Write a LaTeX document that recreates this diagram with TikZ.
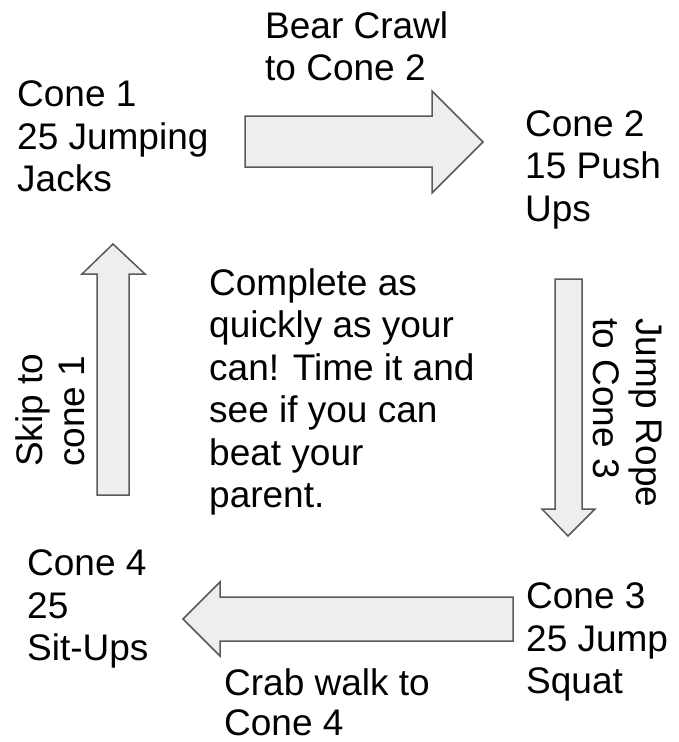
\documentclass[tikz,border=0pt]{standalone}
\usepackage{fontspec}
\setmainfont{Liberation Sans}
\definecolor{arrowfill}{HTML}{EEEEEE}
\definecolor{arrowline}{HTML}{595959}
\tikzset{
  lbl/.style={anchor=north west, inner sep=0pt, align=left,
    font=\fontsize{37}{42.5}\selectfont, text=black},
  blockarrow/.style={fill=arrowfill, draw=arrowline, line width=1.5pt, line join=miter}
}
\begin{document}
\begin{tikzpicture}[x=1pt,y=-1pt]
\useasboundingbox (0,0) rectangle (679,742);
% block arrows
\draw[blockarrow] (245,116) -- (432,116) -- (432,91) -- (483,142) -- (432,193) -- (432,167) -- (245,167) -- cycle;
\draw[blockarrow] (97,495) -- (97,274) -- (82,274) -- (113,244) -- (145,274) -- (129,274) -- (129,495) -- cycle;
\draw[blockarrow] (555,279) -- (582,279) -- (582,509) -- (595,509) -- (568,536) -- (542,509) -- (555,509) -- cycle;
\draw[blockarrow] (513,597) -- (513,641) -- (220,641) -- (220,656) -- (183,619) -- (220,582) -- (220,597) -- cycle;
% labels
\node[lbl] (cone1) at (17,80.5) {Cone 1\\25 Jumping\\Jacks};
\node[lbl] (bear) at (265,11) {Bear Crawl\\to Cone 2};
\node[lbl] (cone2) at (525,110) {Cone 2\\15 Push\\Ups};
\node[lbl] (center) at (209,268) {Complete as\\quickly as your\\can! Time it and\\see if you can\\beat your\\parent.};
\node[lbl, rotate=90] (skip) at (15,467) {Skip to\\cone 1};
\node[lbl, rotate=-90] (jump) at (662,318) {Jump Rope\\to Cone 3};
\node[lbl] (cone3) at (526,582.5) {Cone 3\\25 Jump\\Squat};
\node[lbl] (cone4) at (27,549.5) {Cone 4\\25\\Sit-Ups};
\node[lbl, font=\fontsize{37}{40}\selectfont] (crab) at (224,668.5) {Crab walk to\\Cone 4};
\end{tikzpicture}
\end{document}
